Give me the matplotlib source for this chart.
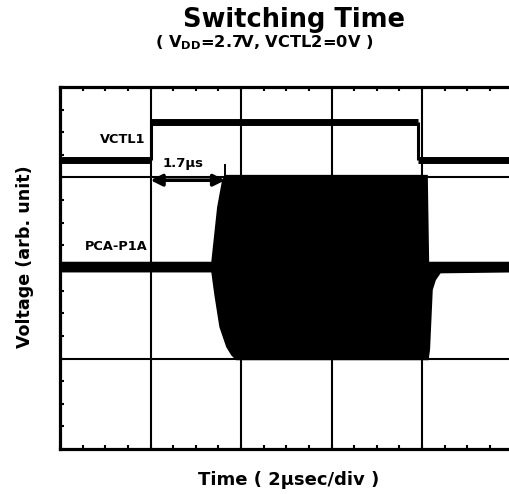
import numpy as np
import matplotlib
matplotlib.use('Agg')
import matplotlib.pyplot as plt

plt.rcParams['font.family'] = ['DejaVu Sans']
plt.rcParams['font.weight'] = 'bold'
plt.rcParams['mathtext.default'] = 'bf'

# time axis in microseconds (2 us / div, 5 divisions), voltage in divisions
# VCTL1 control pulse: edges and level of each segment
vctl_edges = [0.0, 2.0, 7.91, 10.0]
vctl_levels = [3.19, 3.61, 3.19]

# PCA-P1A RF burst: upper and lower edge of the envelope
env_up_t = [0.0, 3.36, 3.49, 3.60, 3.66, 8.11, 8.14, 10.0]
env_up_v = [2.06, 2.06, 2.67, 2.97, 3.02, 3.02, 2.06, 2.06]
env_lo_t = [0.0, 3.36, 3.43, 3.54, 3.69, 3.80, 3.90, 8.13, 8.16, 8.22, 8.29, 8.40, 10.0]
env_lo_v = [1.96, 1.96, 1.70, 1.35, 1.13, 1.04, 0.99, 0.99, 1.10, 1.76, 1.87, 1.95, 1.96]

delay_start = 2.0
delay_end = 3.65
delay_label = '1.7\u03bcs'

fig = plt.figure(figsize=(5.09, 4.94), dpi=100)
ax = fig.add_axes([60 / 509, 45 / 494, 452.5 / 509, 362 / 494])
ax.set_xlim(0, 10)
ax.set_ylim(0, 4)

# grid lines every division
for gx in [2, 4, 6, 8]:
    ax.axvline(gx, color='black', lw=1.5, zorder=1)
for gy in [1, 2, 3]:
    ax.axhline(gy, color='black', lw=1.5, zorder=1)

# RF burst as filled envelope
poly_t = np.concatenate([env_up_t, env_lo_t[::-1]])
poly_v = np.concatenate([env_up_v, env_lo_v[::-1]])
ax.fill(poly_t, poly_v, color='black', lw=1.2, zorder=3)

# VCTL1 step
ax.hlines(vctl_levels, vctl_edges[:-1], vctl_edges[1:], color='black', lw=5.0, zorder=3)
ax.vlines(vctl_edges[1:-1], vctl_levels[:-1], vctl_levels[1:], color='black', lw=2.2, zorder=3)

# delay arrow
ax.annotate('', xy=(delay_start, 2.97), xytext=(delay_end, 2.97),
            arrowprops=dict(arrowstyle='<|-|>', lw=2.6, color='black',
                            mutation_scale=17, shrinkA=0, shrinkB=0), zorder=4)
ax.plot([delay_end, delay_end], [2.83, 3.14], color='black', lw=1.4, zorder=4)
ax.text(2.71, 3.15, delay_label, ha='center', va='center',
        fontsize=9.5, fontweight='bold')

ax.text(1.88, 3.42, 'VCTL1', ha='right', va='center', fontsize=9.3, fontweight='bold')
ax.text(1.94, 2.24, 'PCA-P1A', ha='right', va='center', fontsize=9.3, fontweight='bold')

# frame and quarter-division ticks on all sides
for s in ax.spines.values():
    s.set_linewidth(2.3)
ax.set_xticks(np.arange(0, 10.01, 0.5))
ax.set_yticks(np.arange(0, 4.01, 0.25))
ax.tick_params(direction='in', length=3, width=1.5, top=True, right=True,
               labelbottom=False, labelleft=False)

fig.text(294 / 509, 1 - 27 / 494, 'Switching Time', ha='center', va='baseline',
         fontsize=18.5, fontweight='bold')
fig.text(264 / 509, 1 - 47 / 494, r'( $V_{DD}$=2.7V, VCTL2=0V )', ha='center', va='baseline',
         fontsize=11.7, fontweight='bold')
fig.text(289 / 509, 1 - 485 / 494, 'Time ( 2\u03bcsec/div )', ha='center', va='baseline',
         fontsize=13, fontweight='bold')
fig.text(25 / 509, 1 - 257 / 494, 'Voltage (arb. unit)', ha='center', va='center',
         rotation=90, fontsize=12.6, fontweight='bold')

fig.savefig('out.png', dpi=100)
